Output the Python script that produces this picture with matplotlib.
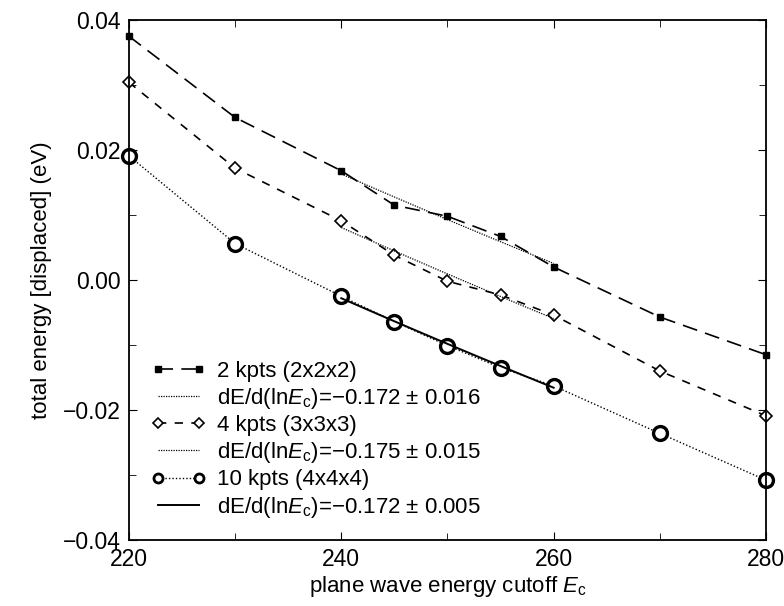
import numpy as np
import matplotlib
matplotlib.use("Agg")
import matplotlib.pyplot as plt
from matplotlib.ticker import MultipleLocator, FuncFormatter

plt.rcParams['font.family'] = ['Liberation Sans', 'DejaVu Sans']
plt.rcParams['mathtext.fontset'] = 'custom'
plt.rcParams['mathtext.rm'] = 'Liberation Sans'
plt.rcParams['mathtext.it'] = 'Liberation Sans:italic'

# plane wave cutoff values
cutoff = [220, 230, 240, 245, 250, 255, 260, 270, 280]

# total energy (displaced), eV
e_2kpts = [0.0375, 0.0250, 0.0168, 0.0115, 0.0098, 0.0067, 0.0020, -0.0057, -0.0115]
e_4kpts = [0.0304, 0.0172, 0.0091, 0.0038, -0.0002, -0.0023, -0.0054, -0.0140, -0.0209]
e_10kpts = [0.0191, 0.0056, -0.0025, -0.0064, -0.0101, -0.0135, -0.0163, -0.0236, -0.0308]

# fitted slopes dE/d(ln Ec) over 240..260
slopes = [-0.172, -0.175, -0.172]
slope_err = [0.016, 0.015, 0.005]
fit_range = (240, 260)

labels = ["2 kpts (2x2x2)", "4 kpts (3x3x3)", "10 kpts (4x4x4)"]


def fit_line(x, y, s):
    # fixed slope in ln(Ec), intercept from the points in the fit window
    x = np.asarray(x, float)
    y = np.asarray(y, float)
    m = (x >= fit_range[0]) & (x <= fit_range[1])
    c = np.mean(y[m] - s * np.log(x[m]))
    xf = np.linspace(fit_range[0], fit_range[1], 50)
    return xf, c + s * np.log(xf)


def fit_label(i):
    return r"dE/d(ln$E_\mathrm{c}$)=$-$%.3f $\pm$ %.3f" % (-slopes[i], slope_err[i])


fig = plt.figure(figsize=(7.84, 6.06), dpi=100)
ax = fig.add_axes([0.1645, 0.109, 0.8125, 0.858])

k = dict(color='black')
ax.plot(cutoff, e_2kpts, linestyle=(0, (9, 5)), lw=1.2, marker='s', ms=5,
        mfc='black', mec='black', label=labels[0], **k)
xf, yf = fit_line(cutoff, e_2kpts, slopes[0])
ax.plot(xf, yf, linestyle=(0, (1, 1)), lw=0.9, label=fit_label(0), **k)

ax.plot(cutoff, e_4kpts, linestyle=(0, (5, 5)), lw=1.2, marker='D', ms=6,
        mfc='white', mec='black', mew=1.2, label=labels[1], **k)
xf, yf = fit_line(cutoff, e_4kpts, slopes[1])
ax.plot(xf, yf, linestyle=(0, (1, 1)), lw=0.9, label=fit_label(1), **k)

ax.plot(cutoff, e_10kpts, linestyle=(0, (1, 1.5)), lw=1.0, marker='o', ms=10,
        mfc='white', mec='black', mew=2.4, label=labels[2], **k)
xf, yf = fit_line(cutoff, e_10kpts, slopes[2])
ax.plot(xf, yf, linestyle='-', lw=1.4, label=fit_label(2), **k)

for l in ax.lines:
    l.set_clip_on(False)

ax.set_xlim(220, 280)
ax.set_ylim(-0.04, 0.04)
ax.xaxis.set_major_locator(MultipleLocator(20))
ax.xaxis.set_minor_locator(MultipleLocator(10))
ax.yaxis.set_major_locator(MultipleLocator(0.02))
ax.yaxis.set_minor_locator(MultipleLocator(0.01))
ax.yaxis.set_major_formatter(FuncFormatter(lambda v, p: ("%.2f" % v).replace("-", "\u2212")))
ax.tick_params(which='both', direction='in', top=True, right=True, labelsize=16.5, pad=6)
ax.tick_params(which='major', length=6)
ax.tick_params(which='minor', length=5)
for sp in ax.spines.values():
    sp.set_linewidth(1.3)

ax.set_xlabel(r"plane wave energy cutoff $E_\mathrm{c}$", fontsize=16, labelpad=2)
ax.set_ylabel("total energy [displaced] (eV)", fontsize=16, labelpad=8)

leg = ax.legend(loc='lower left', bbox_to_anchor=(0.035, 0.039), frameon=False, fontsize=16,
                numpoints=2, handlelength=2.45, handletextpad=0.5, labelspacing=0.19,
                borderaxespad=0, borderpad=0)
# legend markers are drawn smaller than in the plot
leg_ms = [4.5, 0, 5, 0, 6.5, 0]
for h, s in zip(leg.legend_handles, leg_ms):
    if s:
        h.set_markersize(s)
        if s == 6.5:
            h.set_markeredgewidth(2.0)

fig.savefig("out.png", dpi=100)
